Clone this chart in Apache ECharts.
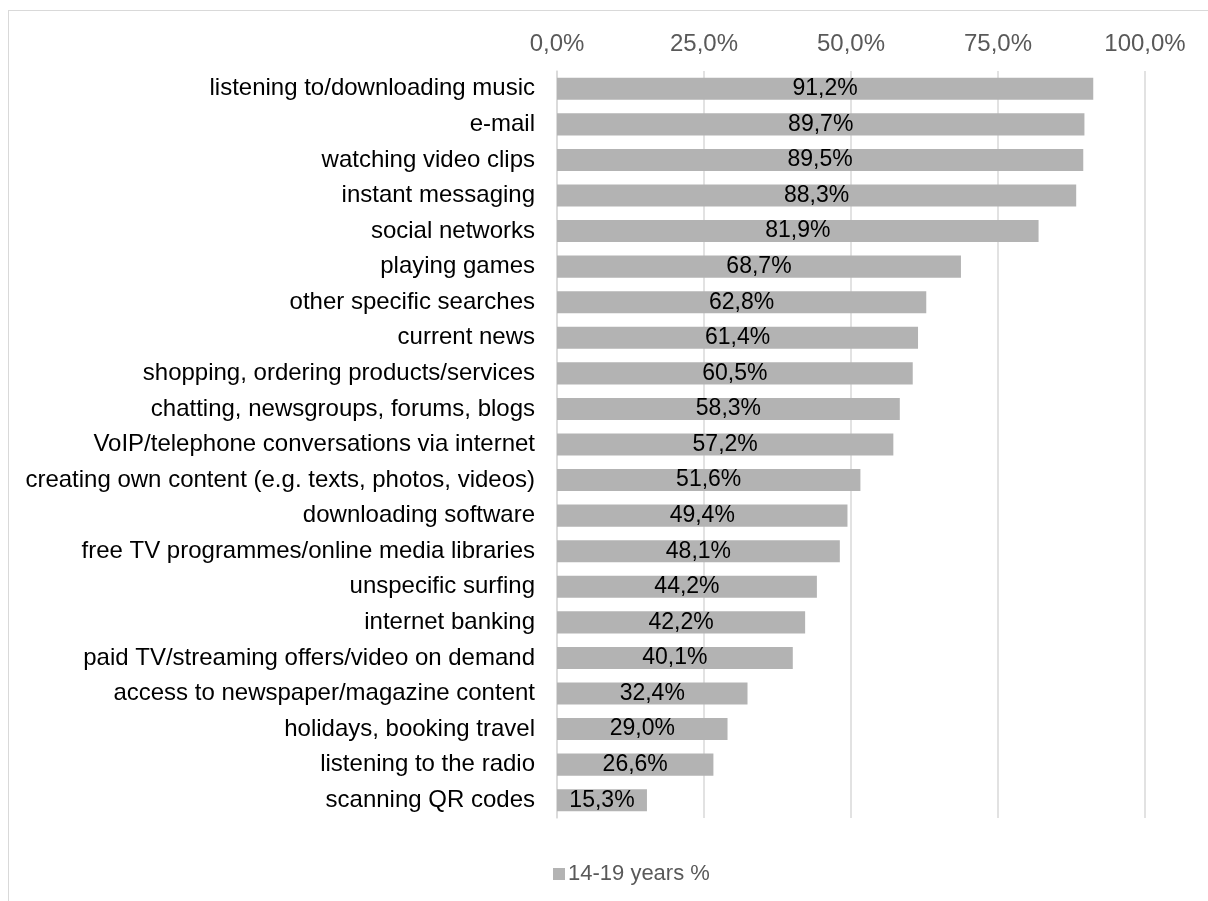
<!DOCTYPE html>
<html>
<head>
<meta charset="utf-8">
<script src="https://cdn.jsdelivr.net/npm/echarts@6/dist/echarts.min.js"></script>
<style>
  html, body { margin: 0; padding: 0; width: 1208px; height: 901px; overflow: hidden; background: #fff; }
  #frame { position: absolute; left: 8px; top: 10px; width: 1240px; height: 940px; border: 1px solid #d9d9d9; box-sizing: border-box; }
  #chart { position: absolute; left: 0; top: 0; width: 1208px; height: 901px; }
</style>
</head>
<body>
<div id="frame"></div>
<div id="chart"></div>
<script>
// Internet activities of 14-19 year olds, share in percent
const categories = [
  'listening to/downloading music',
  'e-mail',
  'watching video clips',
  'instant messaging',
  'social networks',
  'playing games',
  'other specific searches',
  'current news',
  'shopping, ordering products/services',
  'chatting, newsgroups, forums, blogs',
  'VoIP/telephone conversations via internet',
  'creating own content (e.g. texts, photos, videos)',
  'downloading software',
  'free TV programmes/online media libraries',
  'unspecific surfing',
  'internet banking',
  'paid TV/streaming offers/video on demand',
  'access to newspaper/magazine content',
  'holidays, booking travel',
  'listening to the radio',
  'scanning QR codes'
];
const values = [91.2, 89.7, 89.5, 88.3, 81.9, 68.7, 62.8, 61.4, 60.5, 58.3, 57.2, 51.6, 49.4, 48.1, 44.2, 42.2, 40.1, 32.4, 29.0, 26.6, 15.3];
const seriesName = '14-19 years %';
const axisTicks = [0, 25, 50, 75, 100];

const fmt = v => v.toFixed(1).replace('.', ',') + '%';
const FONT = 'Liberation Sans, Arial, sans-serif';

const chart = echarts.init(document.getElementById('chart'), null, { renderer: 'canvas' });
chart.setOption({
  animation: false,
  backgroundColor: 'transparent',
  grid: { left: 557, right: 63, top: 71, bottom: 83 },
  legend: {
    data: [seriesName],
    top: 858,
    left: 548,
    itemWidth: 12,
    itemHeight: 12,
    icon: 'rect',
    textStyle: { color: '#595959', fontSize: 22, fontFamily: FONT, padding: [0, 0, 0, -2] }
  },
  xAxis: {
    type: 'value',
    position: 'top',
    min: axisTicks[0],
    max: axisTicks[axisTicks.length - 1],
    interval: 25,
    axisLine: { show: false },
    axisTick: { show: false },
    splitLine: { show: true, lineStyle: { color: '#d9d9d9', width: 1.5 } },
    axisLabel: { color: '#595959', fontSize: 24, fontFamily: FONT, margin: 15, formatter: fmt }
  },
  yAxis: {
    type: 'category',
    inverse: true,
    data: categories,
    axisLine: { show: true, lineStyle: { color: '#d9d9d9', width: 1.5 } },
    axisTick: { show: false },
    axisLabel: { color: '#000', fontSize: 24, fontFamily: FONT, margin: 22 }
  },
  series: [{
    name: seriesName,
    type: 'bar',
    data: values,
    barCategoryGap: '38%',
    itemStyle: { color: '#b3b3b3' },
    label: {
      show: true,
      position: 'inside',
      color: '#000',
      fontSize: 23,
      fontFamily: FONT,
      formatter: p => fmt(p.value)
    }
  }]
});
</script>
</body>
</html>
